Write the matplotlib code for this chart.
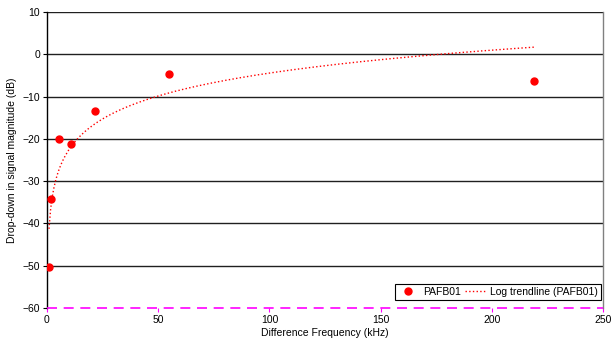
import matplotlib
matplotlib.use('Agg')
import matplotlib.pyplot as plt
import numpy as np

plt.rcParams['font.family'] = ['Liberation Sans', 'DejaVu Sans']
plt.rcParams['font.size'] = 7.5

# Datos
freq_khz = np.array([0.9, 1.8, 5.4, 10.8, 21.6, 55.0, 219.0])
drop_db = np.array([-50.2, -34.3, -20.0, -21.3, -13.5, -4.6, -6.2])

# Tendencia logarítmica (como Excel)
a, b = np.polyfit(np.log(freq_khz), drop_db, 1)
xt = np.linspace(freq_khz.min(), freq_khz.max(), 300)
yt = a * np.log(xt) + b

W, H = 613, 345
fig = plt.figure(figsize=(W / 100, H / 100), dpi=100)
ax = fig.add_axes([47 / W, 1 - 308 / H, (603 - 47) / W, (308 - 12) / H])

for v in range(-50, 11, 10):
    ax.axhline(v, color='#202020', lw=1.0, zorder=1)
ax.axhline(-60, color='#ff00ff', lw=1.2, ls=(0, (6, 4)), zorder=5, clip_on=False)

ax.plot(freq_khz, drop_db, 'o', color='red', ms=5, label='PAFB01', zorder=3)
ax.plot(xt, yt, ':', color='red', lw=1.0, label='Log trendline (PAFB01)', zorder=3)

ax.set_xlim(0, 250)
ax.set_ylim(-60, 10)
ax.set_xticks(np.arange(0, 251, 50))
ax.set_yticks(np.arange(-60, 11, 10))
ax.tick_params(direction='out', length=3, width=0.8, pad=2)
ax.tick_params(axis='x', color='#ff00ff')
ax.spines['bottom'].set_visible(False)
ax.spines['top'].set_visible(False)
ax.spines['left'].set_linewidth(1.0)
ax.spines['right'].set_linewidth(1.0)
ax.spines['right'].set_color('#808080')

ax.set_xlabel('Difference Frequency (kHz)', labelpad=2)
ax.set_ylabel('Drop-down in signal magnitude (dB)', labelpad=4)

leg = ax.legend(loc='lower right', ncol=2, frameon=True, fancybox=False,
                edgecolor='black', framealpha=1, borderpad=0.3,
                handlelength=2.0, columnspacing=0.4, handletextpad=0.4,
                bbox_to_anchor=(1.0, 0.02), borderaxespad=0.2)
leg.get_frame().set_linewidth(0.8)

fig.savefig('out.png', dpi=100)
